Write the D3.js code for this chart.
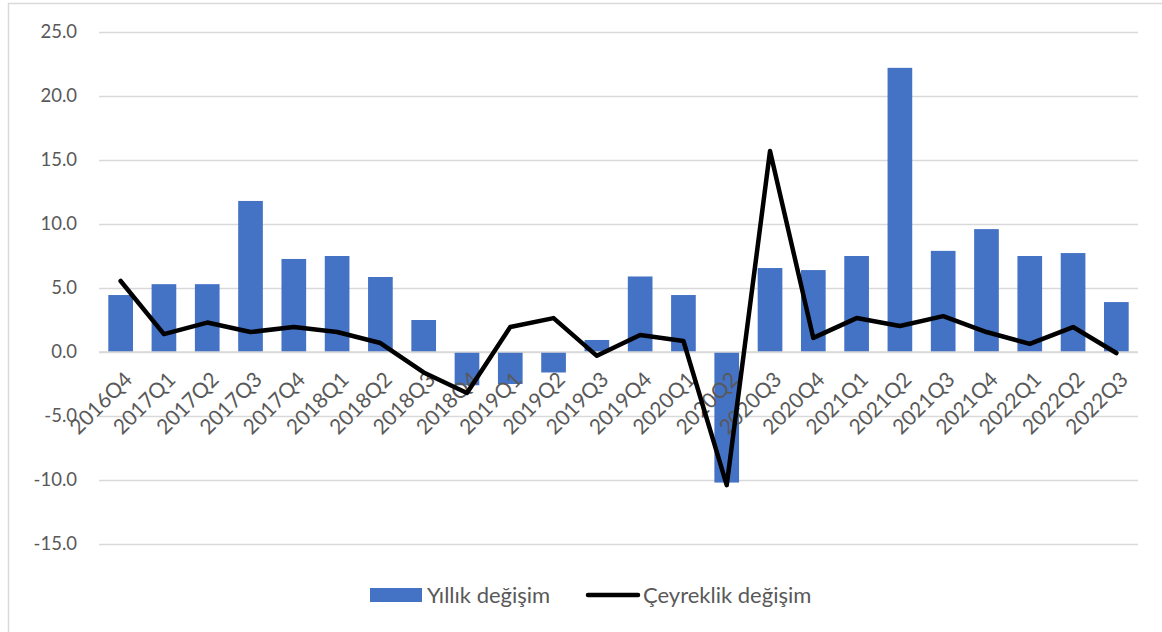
<!DOCTYPE html>
<html>
<head>
<meta charset="utf-8">
<script src="https://cdn.jsdelivr.net/npm/d3@7"></script>
<style>
  body { margin: 0; background: #fff; }
  svg { display: block; font-family: Lato, "Open Sans", sans-serif; }
</style>
</head>
<body>
<svg width="1162" height="632"></svg>
<script>
// quarters on the x axis
var quarters = ["2016Q4","2017Q1","2017Q2","2017Q3","2017Q4","2018Q1","2018Q2","2018Q3",
  "2018Q4","2019Q1","2019Q2","2019Q3","2019Q4","2020Q1","2020Q2","2020Q3",
  "2020Q4","2021Q1","2021Q2","2021Q3","2021Q4","2022Q1","2022Q2","2022Q3"];

// Yıllık değişim (bars)
var yillik = [4.45, 5.3, 5.3, 11.8, 7.27, 7.5, 5.86, 2.5,
  -2.6, -2.5, -1.6, 0.94, 5.9, 4.45, -10.2, 6.56,
  6.4, 7.5, 22.2, 7.9, 9.6, 7.5, 7.73, 3.9];

// Çeyreklik değişim (line)
var ceyreklik = [5.55, 1.4, 2.3, 1.56, 1.95, 1.56, 0.7, -1.6,
  -3.2, 1.95, 2.65, -0.3, 1.33, 0.86, -10.4, 15.7,
  1.1, 2.65, 2.03, 2.8, 1.56, 0.63, 1.95, -0.08];

var yTicks = [-15, -10, -5, 0, 5, 10, 15, 20, 25];

var svg = d3.select("svg"),
    width = +svg.attr("width"),
    height = +svg.attr("height");

var plotLeft = 99, plotRight = 1138, plotTop = 32, plotBottom = 544;

// chart border
svg.append("rect")
    .attr("x", 8.5).attr("y", 3.5)
    .attr("width", 1160).attr("height", 640)
    .style("fill", "none")
    .style("stroke", "#d9d9d9")
    .style("stroke-width", 1.5)

var x = d3.scaleBand()
    .domain(quarters)
    .range([plotLeft, plotRight])
    .paddingInner(0.43)
    .paddingOuter(0.215)

var y = d3.scaleLinear()
    .domain([-15, 25])
    .range([plotBottom, plotTop])

// excel style: plain hyphen for negatives
var fmt = function (d) { return d3.format(".1f")(d).replace("\u2212", "-"); };

// gridlines + y labels
var yAxis = svg.append("g")
    .attr("transform", "translate(" + plotLeft + ",0)")
    .call(d3.axisLeft(y).tickValues(yTicks).tickSize(-(plotRight - plotLeft)).tickFormat(fmt).tickPadding(22))
yAxis.select(".domain").remove()
yAxis.selectAll(".tick line")
    .style("stroke", "#d9d9d9")
    .style("stroke-width", 1.5)
yAxis.selectAll(".tick text")
    .style("font-size", "18.5px")
    .style("fill", "#595959")
    .attr("font-family", "Lato, 'Open Sans', sans-serif")

// bars
svg.append("g")
    .selectAll("rect")
    .data(yillik)
    .enter().append("rect")
    .attr("x", function (d, i) { return x(quarters[i]); })
    .attr("width", x.bandwidth())
    .attr("y", function (d) { return y(Math.max(0, d)); })
    .attr("height", function (d) { return Math.abs(y(d) - y(0)); })
    .style("fill", "#4472c4")

// zero line drawn over bars
svg.append("line")
    .attr("x1", plotLeft).attr("x2", plotRight)
    .attr("y1", y(0)).attr("y2", y(0))
    .style("stroke", "#d9d9d9")
    .style("stroke-width", 1.5)

// x labels rotated -45
svg.append("g")
    .selectAll("text")
    .data(quarters)
    .enter().append("text")
    .attr("transform", function (d) {
        return "translate(" + (x(d) + x.bandwidth() / 2 + 4) + "," + (y(0) + 20) + ") rotate(-45)";
    })
    .attr("text-anchor", "end")
    .attr("dy", "0.6em")
    .style("font-size", "21px")
    .style("fill", "#595959")
    .text(function (d) { return d; })

// line
var line = d3.line()
    .x(function (d, i) { return x(quarters[i]) + x.bandwidth() / 2; })
    .y(function (d) { return y(d); })

svg.append("path")
    .attr("d", line(ceyreklik))
    .style("fill", "none")
    .style("stroke", "black")
    .style("stroke-width", 4.5)
    .style("stroke-linejoin", "round")
    .style("stroke-linecap", "round")

// legend
var legend = svg.append("g")
legend.append("rect")
    .attr("x", 370).attr("y", 588)
    .attr("width", 52).attr("height", 14)
    .style("fill", "#4472c4")
legend.append("text")
    .attr("x", 427).attr("y", 603)
    .style("font-size", "22px")
    .style("fill", "#595959")
    .text("Yıllık değişim")
legend.append("line")
    .attr("x1", 588).attr("x2", 638)
    .attr("y1", 595).attr("y2", 595)
    .style("stroke", "black")
    .style("stroke-width", 4.5)
    .style("stroke-linecap", "round")
legend.append("text")
    .attr("x", 643).attr("y", 603)
    .style("font-size", "22px")
    .style("fill", "#595959")
    .text("Çeyreklik değişim")
</script>
</body>
</html>
